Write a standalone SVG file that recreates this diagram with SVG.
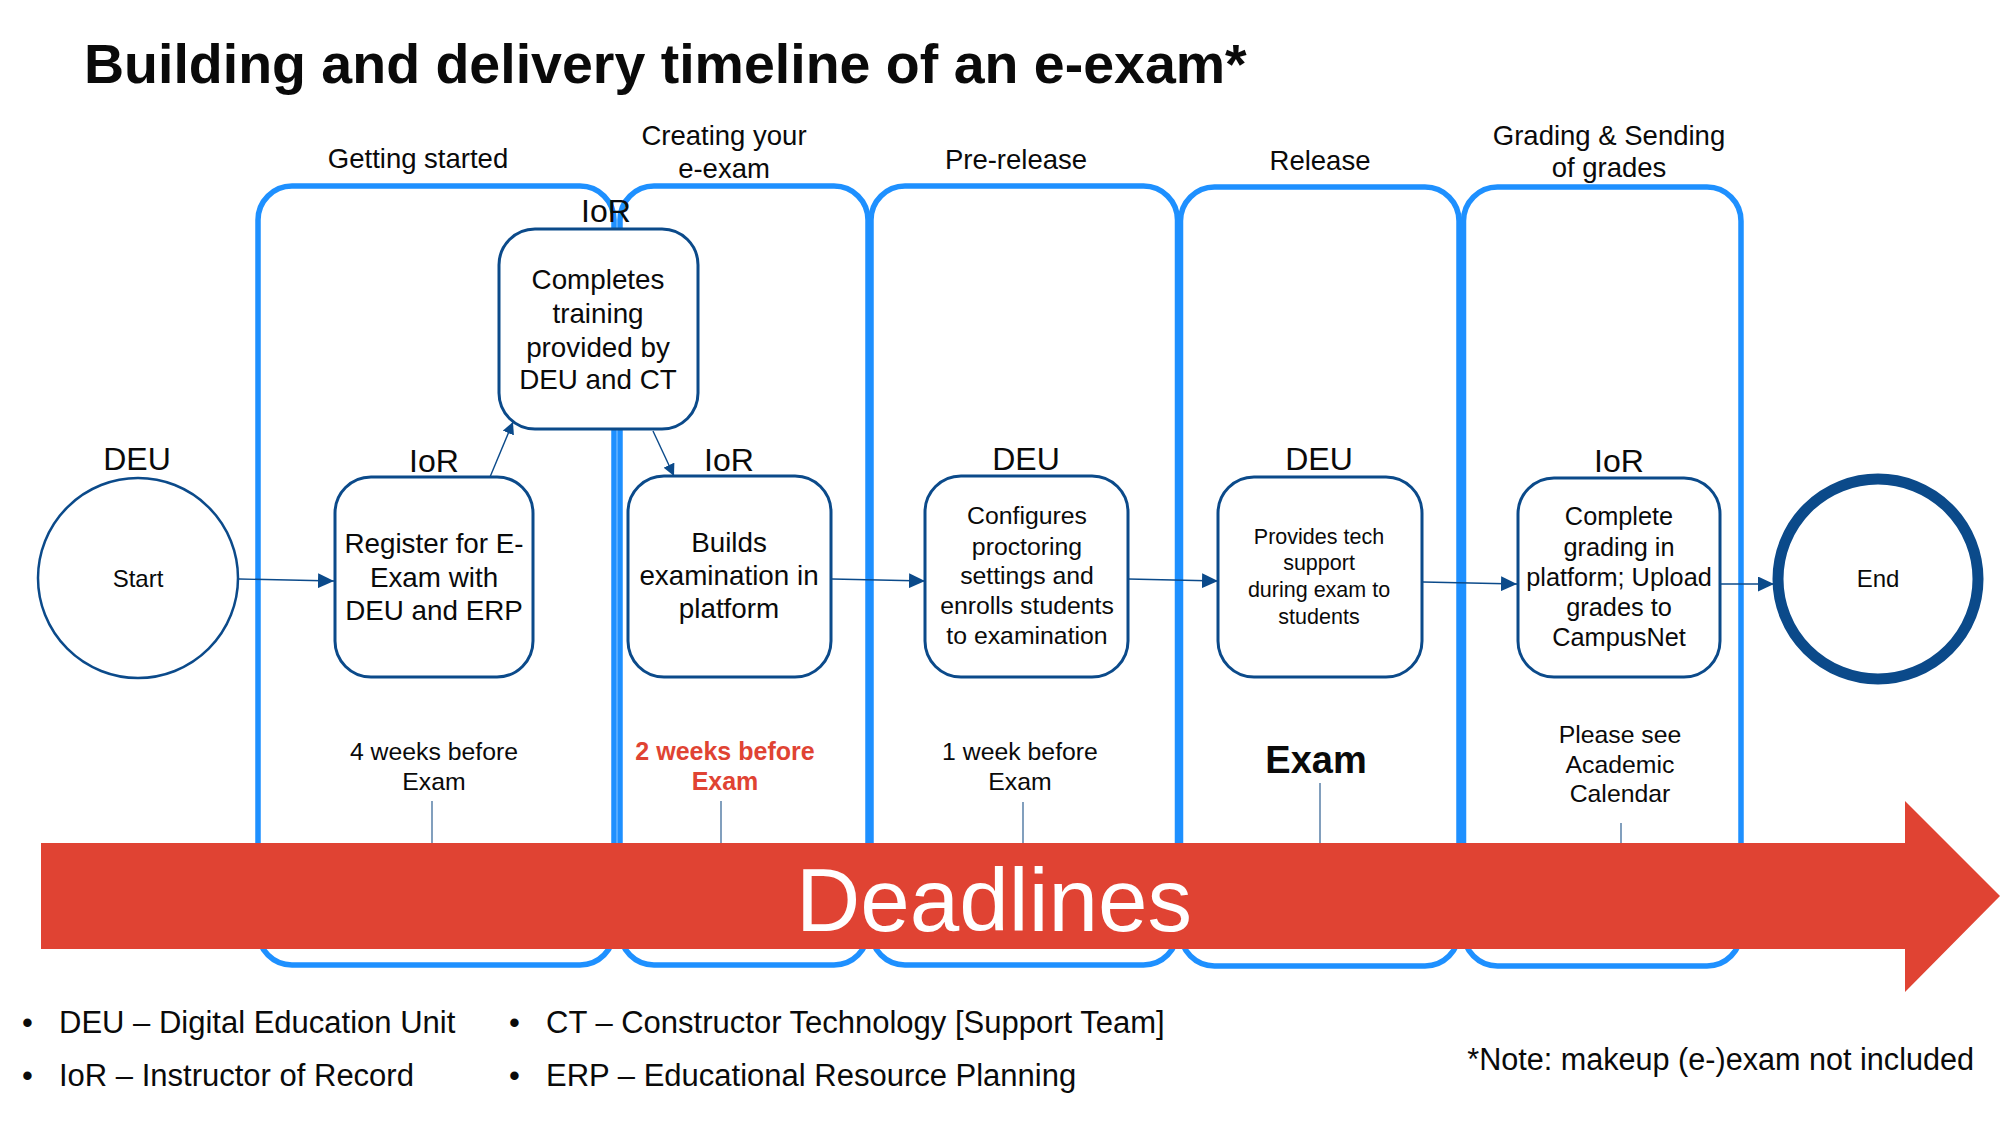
<svg xmlns="http://www.w3.org/2000/svg" width="2000" height="1125" viewBox="0 0 2000 1125">
  <style>
    text { font-family: "Liberation Sans", Arial, sans-serif; fill: #0a0a0a; }
    .lane { fill: none; stroke: #1E90FF; stroke-width: 5.5; }
    .hdr { font-size: 27.5px; text-anchor: middle; }
    .box { fill: #ffffff; stroke: #0B4A8A; stroke-width: 3; }
    .role { font-size: 32px; text-anchor: middle; }
    .t27 { font-size: 27.8px; text-anchor: middle; }
    .t25 { font-size: 24.8px; text-anchor: middle; }
    .t25b { font-size: 25.3px; text-anchor: middle; }
    .t22 { font-size: 21.5px; text-anchor: middle; }
    .dl { font-size: 24.8px; text-anchor: middle; }
    .dlred { font-size: 25px; font-weight: bold; text-anchor: middle; fill: #E04333; }
    .conn { fill: none; stroke: #0B4A8A; stroke-width: 1.4; }
    .tick { fill: none; stroke: #2E5F91; stroke-width: 1.2; }
    .leg { font-size: 31px; }
  </style>
  <defs>
    <marker id="arr" markerUnits="userSpaceOnUse" markerWidth="16" markerHeight="15" refX="16" refY="7.5" orient="auto">
      <path d="M0,0 L16,7.5 L0,15 Z" fill="#0B4A8A"/>
    </marker>
    <marker id="arrs" markerUnits="userSpaceOnUse" markerWidth="12" markerHeight="12" refX="12" refY="6" orient="auto">
      <path d="M0,0 L12,6 L0,12 Z" fill="#0B4A8A"/>
    </marker>
  </defs>

  <rect x="0" y="0" width="2000" height="1125" fill="#ffffff"/>

  <text x="84" y="83" font-size="55.5" font-weight="bold">Building and delivery timeline of an e-exam*</text>

  <!-- Lanes -->
  <g id="lane-getting-started">
    <rect class="lane" x="258" y="186" width="356" height="779" rx="34"/>
    <text class="hdr" x="418" y="168">Getting started</text>
  </g>
  <g id="lane-creating">
    <rect class="lane" x="620" y="186" width="248" height="779" rx="34"/>
    <text class="hdr" x="724" y="145">Creating your</text>
    <text class="hdr" x="724" y="178">e-exam</text>
  </g>
  <g id="lane-pre-release">
    <rect class="lane" x="871" y="186" width="306.5" height="779" rx="34"/>
    <text class="hdr" x="1016" y="169">Pre-release</text>
  </g>
  <g id="lane-release">
    <rect class="lane" x="1180.5" y="187" width="278.5" height="779" rx="34"/>
    <text class="hdr" x="1320" y="170">Release</text>
  </g>
  <g id="lane-grading">
    <rect class="lane" x="1463.5" y="187" width="277.5" height="779" rx="34"/>
    <text class="hdr" x="1609" y="145">Grading &amp; Sending</text>
    <text class="hdr" x="1609" y="177">of grades</text>
  </g>

  <!-- Deadline ticks -->
  <g id="ticks">
    <line class="tick" x1="432" y1="801" x2="432" y2="845"/>
    <line class="tick" x1="721" y1="801" x2="721" y2="845"/>
    <line class="tick" x1="1023" y1="802" x2="1023" y2="845"/>
    <line class="tick" x1="1320" y1="783" x2="1320" y2="845"/>
    <line class="tick" x1="1621" y1="823" x2="1621" y2="845"/>
  </g>

  <!-- Deadlines arrow -->
  <g id="deadlines">
    <polygon points="41,843 1905,843 1905,801 2000,896 1905,992 1905,949 41,949" fill="#E04333"/>
    <text x="994" y="931" font-size="89" text-anchor="middle" style="fill:#ffffff">Deadlines</text>
  </g>

  <!-- Deadline labels -->
  <g id="deadline-labels">
    <text class="dl" x="434" y="760">4 weeks before</text>
    <text class="dl" x="434" y="790">Exam</text>
    <text class="dlred" x="725" y="760">2 weeks before</text>
    <text class="dlred" x="725" y="790">Exam</text>
    <text class="dl" x="1020" y="760">1 week before</text>
    <text class="dl" x="1020" y="790">Exam</text>
    <text x="1316" y="773" font-size="38" font-weight="bold" text-anchor="middle">Exam</text>
    <text class="dl" x="1620" y="743">Please see</text>
    <text class="dl" x="1620" y="773">Academic</text>
    <text class="dl" x="1620" y="802">Calendar</text>
  </g>

  <!-- Connectors -->
  <g id="connectors">
    <line class="conn" x1="239" y1="579" x2="334" y2="581" marker-end="url(#arr)"/>
    <line class="conn" x1="490" y1="477" x2="513" y2="422" marker-end="url(#arrs)"/>
    <line class="conn" x1="653" y1="431" x2="674" y2="476" marker-end="url(#arrs)"/>
    <line class="conn" x1="832" y1="579" x2="925" y2="581" marker-end="url(#arr)"/>
    <line class="conn" x1="1128" y1="579" x2="1218" y2="581" marker-end="url(#arr)"/>
    <line class="conn" x1="1423" y1="582" x2="1517" y2="584" marker-end="url(#arr)"/>
    <line class="conn" x1="1721" y1="584" x2="1774" y2="584" marker-end="url(#arr)"/>
  </g>

  <!-- Nodes -->
  <g id="node-start">
    <text class="role" x="137" y="470">DEU</text>
    <circle cx="138" cy="578" r="100" fill="#ffffff" stroke="#0B4A8A" stroke-width="2.5"/>
    <text x="138" y="587" font-size="24" text-anchor="middle">Start</text>
  </g>

  <g id="node-register">
    <text class="role" x="434" y="472">IoR</text>
    <rect class="box" x="335" y="477" width="198" height="200" rx="36"/>
    <text class="t27" x="434" y="553">Register for E-</text>
    <text class="t27" x="434" y="587">Exam with</text>
    <text class="t27" x="434" y="620">DEU and ERP</text>
  </g>

  <g id="node-training">
    <rect class="box" x="499" y="229" width="199" height="200" rx="36"/>
    <text class="role" x="606" y="222">IoR</text>
    <text class="t27" x="598" y="289">Completes</text>
    <text class="t27" x="598" y="323">training</text>
    <text class="t27" x="598" y="357">provided by</text>
    <text class="t27" x="598" y="389">DEU and CT</text>
  </g>

  <g id="node-builds">
    <text class="role" x="729" y="471">IoR</text>
    <rect class="box" x="628" y="476" width="203" height="201" rx="36"/>
    <text class="t27" x="729" y="552">Builds</text>
    <text class="t27" x="729" y="585">examination in</text>
    <text class="t27" x="729" y="618">platform</text>
  </g>

  <g id="node-configures">
    <text class="role" x="1026" y="470">DEU</text>
    <rect class="box" x="925" y="476" width="203" height="201" rx="36"/>
    <text class="t25" x="1027" y="524">Configures</text>
    <text class="t25" x="1027" y="555">proctoring</text>
    <text class="t25" x="1027" y="584">settings and</text>
    <text class="t25" x="1027" y="614">enrolls students</text>
    <text class="t25" x="1027" y="644">to examination</text>
  </g>

  <g id="node-support">
    <text class="role" x="1319" y="470">DEU</text>
    <rect class="box" x="1218" y="477" width="204" height="200" rx="36"/>
    <text class="t22" x="1319" y="544">Provides tech</text>
    <text class="t22" x="1319" y="570">support</text>
    <text class="t22" x="1319" y="597">during exam to</text>
    <text class="t22" x="1319" y="624">students</text>
  </g>

  <g id="node-grading">
    <text class="role" x="1619" y="472">IoR</text>
    <rect class="box" x="1518" y="478" width="202" height="199" rx="36"/>
    <text class="t25b" x="1619" y="525">Complete</text>
    <text class="t25b" x="1619" y="556">grading in</text>
    <text class="t25b" x="1619" y="586">platform; Upload</text>
    <text class="t25b" x="1619" y="616">grades to</text>
    <text class="t25b" x="1619" y="646">CampusNet</text>
  </g>

  <g id="node-end">
    <circle cx="1878" cy="579" r="100" fill="#ffffff" stroke="#0B4A8A" stroke-width="11"/>
    <text x="1878" y="587" font-size="24" text-anchor="middle">End</text>
  </g>

  <!-- Legend -->
  <g id="legend">
    <text class="leg" x="22" y="1033">•</text>
    <text class="leg" x="59" y="1033">DEU – Digital Education Unit</text>
    <text class="leg" x="22" y="1086">•</text>
    <text class="leg" x="59" y="1086">IoR – Instructor of Record</text>
    <text class="leg" x="509" y="1033">•</text>
    <text class="leg" x="546" y="1033">CT – Constructor Technology [Support Team]</text>
    <text class="leg" x="509" y="1086">•</text>
    <text class="leg" x="546" y="1086">ERP – Educational Resource Planning</text>
    <text class="leg" x="1974" y="1070" text-anchor="end" style="font-size:30.6px">*Note: makeup (e-)exam not included</text>
  </g>
</svg>
